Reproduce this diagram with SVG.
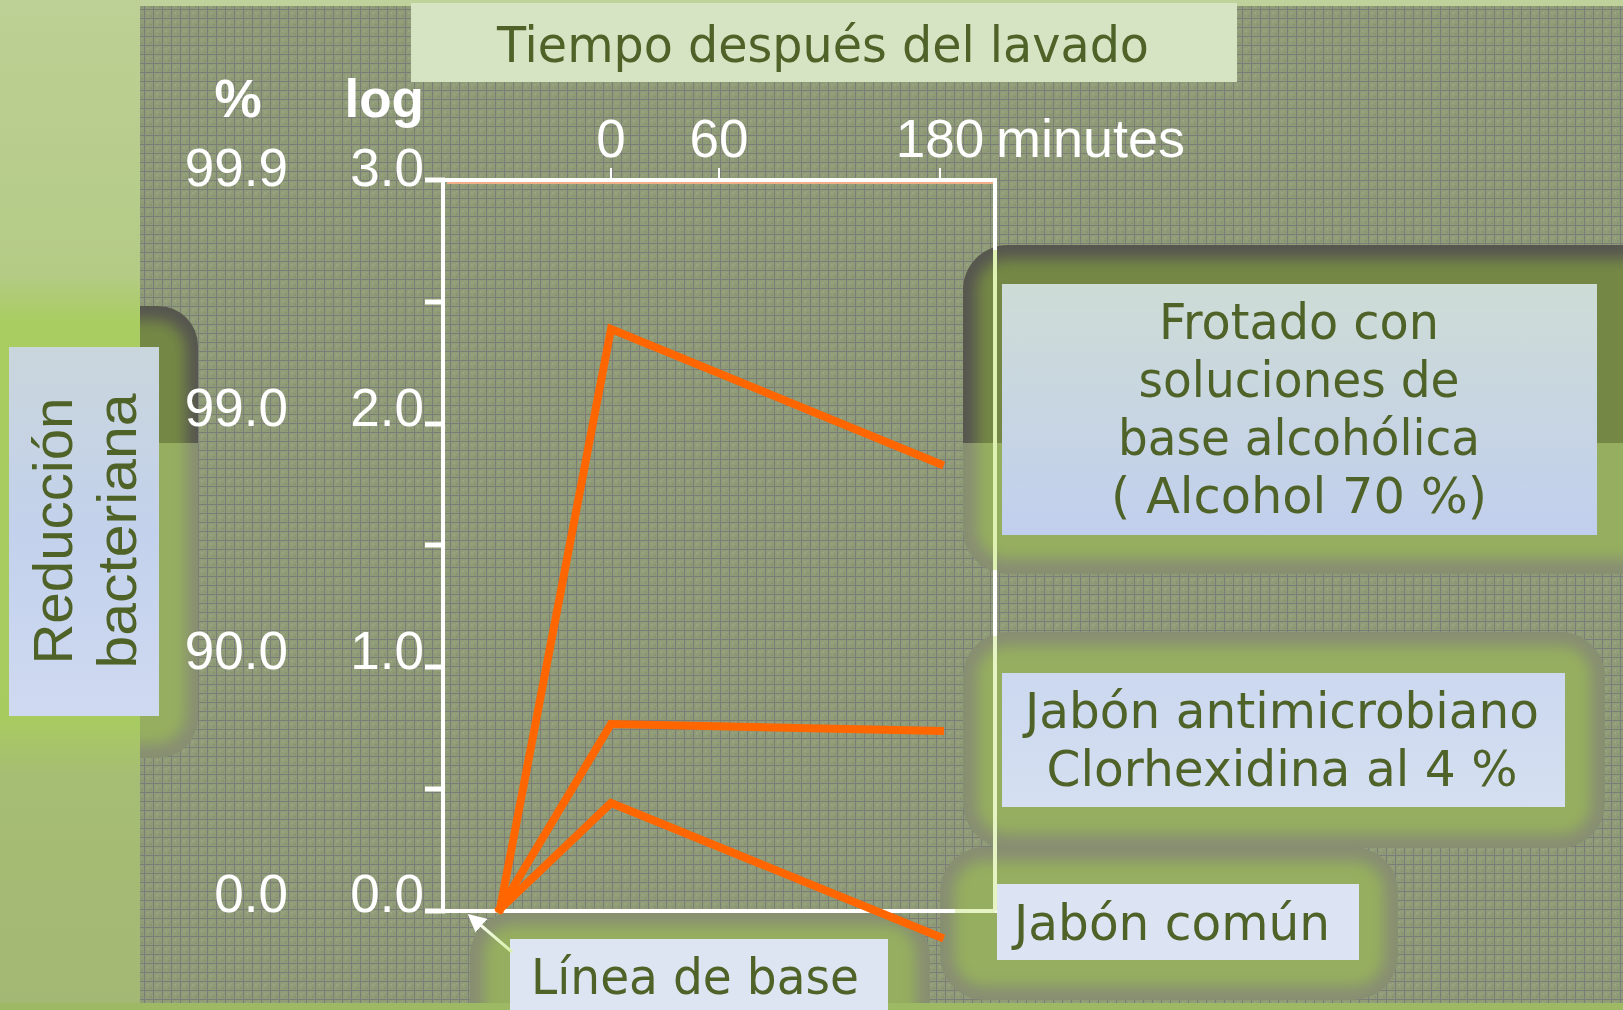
<svg xmlns="http://www.w3.org/2000/svg" width="1623" height="1010" viewBox="0 0 1623 1010">
<style>
.lbl{font-family:"DejaVu Sans","Liberation Sans",sans-serif;font-size:50px;fill:#4f6228;}
.num{font-family:"Liberation Sans",Arial,sans-serif;font-size:53px;fill:#ffffff;}
.bold{font-weight:bold;}
.ax{stroke:#ffffff;stroke-width:4;fill:none;}
.tick{stroke:#ffffff;stroke-width:5;}
.xt{stroke:#ffffff;stroke-width:2;}
.orange{stroke:#ff6600;stroke-width:8;fill:none;stroke-linejoin:miter;stroke-linecap:square;}
.edge{fill:#878e72;}
.edgeDark{fill:#56564f;}
.green{fill:#95ae5f;}
.olive{fill:#748744;}
</style>
<defs>
<pattern id="tex" width="9" height="9" patternUnits="userSpaceOnUse">
<rect width="9" height="9" fill="#8f9c77"/>
<rect x="3" y="3" width="2" height="2" fill="#98a580"/>
<rect x="6" y="6" width="2" height="2" fill="#889471"/>
<rect x="6" y="2" width="1" height="1" fill="#98a580"/>
<rect width="9" height="1" fill="#7b7d79"/>
<rect width="1" height="9" fill="#7b7d79"/>
</pattern>
<linearGradient id="leftStrip" x1="0" y1="0" x2="0" y2="1">
<stop offset="0" stop-color="#bdd095"/>
<stop offset="0.27" stop-color="#b4cb86"/>
<stop offset="0.32" stop-color="#a9cd61"/>
<stop offset="0.71" stop-color="#a8cb60"/>
<stop offset="0.77" stop-color="#a6bd74"/>
<stop offset="1" stop-color="#a3b874"/>
</linearGradient>
<linearGradient id="gFrot" x1="0" y1="0" x2="0" y2="1">
<stop offset="0" stop-color="#cedcd6"/>
<stop offset="1" stop-color="#c1cfee"/>
</linearGradient>
<linearGradient id="gAnti" x1="0" y1="0" x2="0" y2="1">
<stop offset="0" stop-color="#cbd8ef"/>
<stop offset="1" stop-color="#d5dff1"/>
</linearGradient>
<linearGradient id="gRed" x1="0" y1="0" x2="0" y2="1">
<stop offset="0" stop-color="#c9d6dc"/>
<stop offset="0.5" stop-color="#c3d1ec"/>
<stop offset="1" stop-color="#cfdaf1"/>
</linearGradient>
<linearGradient id="gArrow" x1="1" y1="1" x2="0" y2="0">
<stop offset="0" stop-color="#d8f0a8"/>
<stop offset="1" stop-color="#ffffff"/>
</linearGradient>
<filter id="blur" x="-30%" y="-30%" width="160%" height="160%">
<feGaussianBlur stdDeviation="7"/>
</filter>
<clipPath id="cpFrot"><rect x="963" y="245" width="720" height="329" rx="45"/></clipPath>
<clipPath id="cpFrotTop"><rect x="900" y="200" width="800" height="243"/></clipPath>
<clipPath id="cpRed"><rect x="-60" y="306" width="258" height="452" rx="40"/></clipPath>
<clipPath id="cpRight140"><rect x="140" y="0" width="200" height="1010"/></clipPath>
<clipPath id="cpRedTop"><rect x="140" y="0" width="200" height="443"/></clipPath>
<clipPath id="cpAnti"><rect x="963" y="632" width="642" height="216" rx="45"/></clipPath>
<clipPath id="cpCom"><rect x="940" y="847" width="458" height="153" rx="45"/></clipPath>
<clipPath id="cpLin"><rect x="470" y="912" width="460" height="150" rx="45"/></clipPath>
<marker id="ah" markerWidth="6" markerHeight="6" refX="5" refY="3" orient="auto" markerUnits="strokeWidth">
<path d="M0,0 L6,3 L0,6 z" fill="#ffffff"/>
</marker>
</defs>

<g id="background">
<rect x="0" y="0" width="1623" height="1010" fill="#bfd29b"/>
<rect x="0" y="0" width="140" height="1010" fill="url(#leftStrip)"/>
<rect x="140" y="6" width="1483" height="997" fill="url(#tex)"/>
</g>

<g id="glows">
<g clip-path="url(#cpFrot)">
<rect class="edge" x="940" y="230" width="760" height="360"/>
<rect class="green" x="977" y="259" width="700" height="300" rx="30" filter="url(#blur)"/>
<g clip-path="url(#cpFrotTop)">
<rect class="edgeDark" x="940" y="230" width="760" height="360"/>
<rect class="olive" x="977" y="259" width="700" height="300" rx="30" filter="url(#blur)"/>
</g>
</g>
<g clip-path="url(#cpRight140)">
<g clip-path="url(#cpRed)">
<rect class="edge" x="-60" y="300" width="270" height="470"/>
<rect class="green" x="-60" y="320" width="246" height="424" rx="30" filter="url(#blur)"/>
<g clip-path="url(#cpRedTop)">
<rect class="edgeDark" x="-60" y="300" width="270" height="470"/>
<rect class="olive" x="-60" y="320" width="246" height="424" rx="30" filter="url(#blur)"/>
</g>
</g>
</g>
<g clip-path="url(#cpAnti)">
<rect class="edge" x="950" y="620" width="670" height="240"/>
<rect class="green" x="977" y="646" width="614" height="188" rx="30" filter="url(#blur)"/>
</g>
<g clip-path="url(#cpCom)">
<rect class="edge" x="930" y="840" width="480" height="170"/>
<rect class="green" x="954" y="861" width="430" height="125" rx="30" filter="url(#blur)"/>
</g>
<g clip-path="url(#cpLin)">
<rect class="edge" x="460" y="905" width="480" height="120"/>
<rect class="green" x="484" y="925" width="432" height="120" rx="30" filter="url(#blur)"/>
</g>
<rect x="0" y="1003" width="1623" height="7" fill="#9db964"/>
</g>

<g id="title">
<rect x="411" y="3" width="826" height="79" fill="#d7e4c4"/>
<text class="lbl" x="823" y="62" text-anchor="middle" textLength="652" lengthAdjust="spacingAndGlyphs">Tiempo después del lavado</text>
</g>

<g id="axis-labels">
<text class="num bold" x="238" y="117" text-anchor="middle">%</text>
<text class="num bold" x="424" y="117" text-anchor="end">log</text>
<text class="num" x="288" y="186" text-anchor="end">99.9</text>
<text class="num" x="424" y="186" text-anchor="end">3.0</text>
<text class="num" x="288" y="426" text-anchor="end">99.0</text>
<text class="num" x="424" y="426" text-anchor="end">2.0</text>
<text class="num" x="288" y="669" text-anchor="end">90.0</text>
<text class="num" x="424" y="669" text-anchor="end">1.0</text>
<text class="num" x="288" y="912" text-anchor="end">0.0</text>
<text class="num" x="424" y="912" text-anchor="end">0.0</text>
<text class="num" x="611" y="157" text-anchor="middle">0</text>
<text class="num" x="719" y="157" text-anchor="middle">60</text>
<text class="num" x="940" y="157" text-anchor="middle">180</text>
<text class="num" x="996" y="157" textLength="189" lengthAdjust="spacingAndGlyphs">minutes</text>
</g>

<g id="plot">
<line x1="447" y1="183" x2="993" y2="183" stroke="#f2b088" stroke-width="2"/>
<path class="ax" d="M443,180 H995 V911 H443 Z"/>
<line x1="995" y1="250" x2="995" y2="570" stroke="#dff2b2" stroke-width="4"/>
<line x1="995" y1="636" x2="995" y2="911" stroke="#e6f4c4" stroke-width="4"/>
<line x1="955" y1="911" x2="995" y2="911" stroke="#e6f4c4" stroke-width="4"/>
<line class="tick" x1="425" y1="180" x2="445" y2="180"/>
<line class="tick" x1="425" y1="302" x2="445" y2="302"/>
<line class="tick" x1="425" y1="424" x2="445" y2="424"/>
<line class="tick" x1="425" y1="545" x2="445" y2="545"/>
<line class="tick" x1="425" y1="667" x2="445" y2="667"/>
<line class="tick" x1="425" y1="789" x2="445" y2="789"/>
<line class="tick" x1="425" y1="911" x2="445" y2="911"/>
<line class="xt" x1="611" y1="168" x2="611" y2="180"/>
<line class="xt" x1="719" y1="168" x2="719" y2="180"/>
<line class="xt" x1="940" y1="168" x2="940" y2="180"/>
</g>

<g id="node-frotado">
<rect x="1002" y="284" width="595" height="251" fill="url(#gFrot)"/>
<text class="lbl" x="1299" y="339" text-anchor="middle" textLength="280" lengthAdjust="spacingAndGlyphs">Frotado con</text>
<text class="lbl" x="1299" y="397" text-anchor="middle" textLength="321" lengthAdjust="spacingAndGlyphs">soluciones de</text>
<text class="lbl" x="1299" y="455" text-anchor="middle" textLength="362" lengthAdjust="spacingAndGlyphs">base alcohólica</text>
<text class="lbl" x="1299" y="513" text-anchor="middle" textLength="376" lengthAdjust="spacingAndGlyphs">( Alcohol 70 %)</text>
</g>

<g id="node-antimicrobiano">
<rect x="1002" y="673" width="563" height="134" fill="url(#gAnti)"/>
<text class="lbl" x="1282" y="728" text-anchor="middle" textLength="514" lengthAdjust="spacingAndGlyphs">Jabón antimicrobiano</text>
<text class="lbl" x="1282" y="786" text-anchor="middle" textLength="471" lengthAdjust="spacingAndGlyphs">Clorhexidina al 4 %</text>
</g>

<g id="node-comun">
<rect x="997" y="884" width="362" height="76" fill="#dce4f3"/>
<text class="lbl" x="1014" y="940" textLength="316" lengthAdjust="spacingAndGlyphs">Jabón común</text>
</g>

<g id="node-linea">
<rect x="510" y="939" width="378" height="71" fill="#dde5f3"/>
<text class="lbl" x="531" y="994" textLength="328" lengthAdjust="spacingAndGlyphs">Línea de base</text>
</g>

<g id="node-reduccion">
<rect x="9" y="347" width="150" height="369" fill="url(#gRed)"/>
<text class="num" style="fill:#4f6228;font-size:56px" transform="translate(72,531) rotate(-90)" text-anchor="middle" textLength="267" lengthAdjust="spacingAndGlyphs">Reducción</text>
<text class="num" style="fill:#4f6228;font-size:56px" transform="translate(136,531) rotate(-90)" text-anchor="middle" textLength="275" lengthAdjust="spacingAndGlyphs">bacteriana</text>
</g>

<g id="connectors">
<polyline class="orange" points="500,909 611,329 940,464"/>
<polyline class="orange" points="500,909 611,724 940,731"/>
<polyline class="orange" points="500,909 611,803 940,937"/>
<line x1="512" y1="952" x2="470" y2="916" stroke="url(#gArrow)" stroke-width="3" marker-end="url(#ah)"/>
</g>
</svg>
